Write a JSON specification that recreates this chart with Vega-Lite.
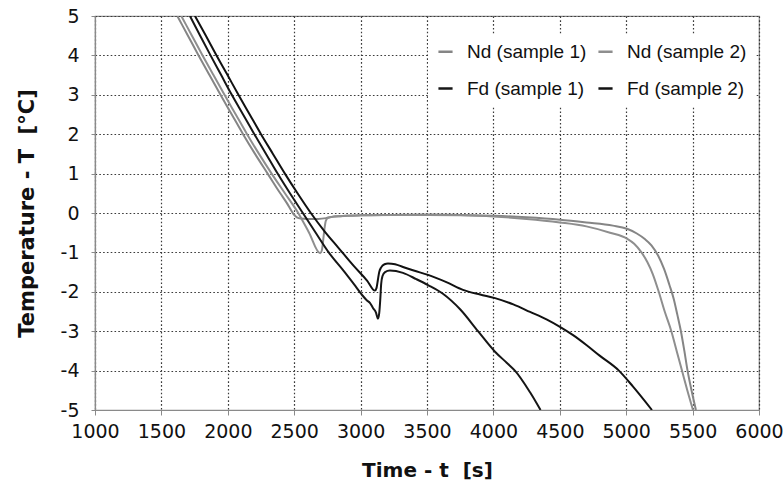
{
  "$schema": "https://vega.github.io/schema/vega-lite/v6.json",
  "width": 664,
  "height": 394,
  "autosize": {"type": "none"},
  "padding": {"left": 95, "top": 16, "right": 25, "bottom": 77},
  "background": "white",
  "config": {
    "font": "Liberation Sans",
    "view": {"stroke": "#8a8a8a", "strokeWidth": 1.2},
    "axis": {
      "grid": true,
      "gridColor": "#3a3a3a",
      "gridDash": [1.6, 2.2],
      "gridWidth": 1.2,
      "domainColor": "#8a8a8a",
      "domainWidth": 1.2,
      "tickColor": "#8a8a8a",
      "labelFont": "DejaVu Sans",
      "labelFontSize": 19,
      "labelColor": "#111111",
      "titleFont": "DejaVu Sans",
      "titleFontWeight": "bold",
      "titleColor": "#111111"
    }
  },
  "data": {
    "values": [
      {"s": "Nd (sample 1)", "t": 1620, "T": 5}, {"s": "Nd (sample 1)", "t": 1700, "T": 4.5}, {"s": "Nd (sample 1)", "t": 1780, "T": 4}, {"s": "Nd (sample 1)", "t": 1862, "T": 3.5}, {"s": "Nd (sample 1)", "t": 1945, "T": 3}, {"s": "Nd (sample 1)", "t": 2030, "T": 2.5}, {"s": "Nd (sample 1)", "t": 2115, "T": 2}, {"s": "Nd (sample 1)", "t": 2205, "T": 1.5}, {"s": "Nd (sample 1)", "t": 2300, "T": 1}, {"s": "Nd (sample 1)", "t": 2395, "T": 0.5}, {"s": "Nd (sample 1)", "t": 2445, "T": 0.25}, {"s": "Nd (sample 1)", "t": 2480, "T": 0.05}, {"s": "Nd (sample 1)", "t": 2500, "T": -0.05}, {"s": "Nd (sample 1)", "t": 2520, "T": -0.11}, {"s": "Nd (sample 1)", "t": 2550, "T": -0.14}, {"s": "Nd (sample 1)", "t": 2600, "T": -0.15}, {"s": "Nd (sample 1)", "t": 2680, "T": -0.15}, {"s": "Nd (sample 1)", "t": 2740, "T": -0.13}, {"s": "Nd (sample 1)", "t": 2780, "T": -0.1}, {"s": "Nd (sample 1)", "t": 2850, "T": -0.08}, {"s": "Nd (sample 1)", "t": 3000, "T": -0.06}, {"s": "Nd (sample 1)", "t": 3250, "T": -0.05}, {"s": "Nd (sample 1)", "t": 3500, "T": -0.04}, {"s": "Nd (sample 1)", "t": 3750, "T": -0.05}, {"s": "Nd (sample 1)", "t": 4000, "T": -0.07}, {"s": "Nd (sample 1)", "t": 4250, "T": -0.11}, {"s": "Nd (sample 1)", "t": 4500, "T": -0.17}, {"s": "Nd (sample 1)", "t": 4700, "T": -0.24}, {"s": "Nd (sample 1)", "t": 4900, "T": -0.32}, {"s": "Nd (sample 1)", "t": 5006, "T": -0.4}, {"s": "Nd (sample 1)", "t": 5080, "T": -0.52}, {"s": "Nd (sample 1)", "t": 5140, "T": -0.66}, {"s": "Nd (sample 1)", "t": 5190, "T": -0.82}, {"s": "Nd (sample 1)", "t": 5240, "T": -1.08}, {"s": "Nd (sample 1)", "t": 5285, "T": -1.42}, {"s": "Nd (sample 1)", "t": 5325, "T": -1.82}, {"s": "Nd (sample 1)", "t": 5358, "T": -2.18}, {"s": "Nd (sample 1)", "t": 5385, "T": -2.58}, {"s": "Nd (sample 1)", "t": 5412, "T": -3.0}, {"s": "Nd (sample 1)", "t": 5438, "T": -3.5}, {"s": "Nd (sample 1)", "t": 5462, "T": -4.0}, {"s": "Nd (sample 1)", "t": 5495, "T": -4.55}, {"s": "Nd (sample 1)", "t": 5525, "T": -5},
      {"s": "Nd (sample 2)", "t": 1650, "T": 5}, {"s": "Nd (sample 2)", "t": 1730, "T": 4.5}, {"s": "Nd (sample 2)", "t": 1810, "T": 4}, {"s": "Nd (sample 2)", "t": 1892, "T": 3.5}, {"s": "Nd (sample 2)", "t": 1975, "T": 3}, {"s": "Nd (sample 2)", "t": 2060, "T": 2.5}, {"s": "Nd (sample 2)", "t": 2145, "T": 2}, {"s": "Nd (sample 2)", "t": 2235, "T": 1.5}, {"s": "Nd (sample 2)", "t": 2330, "T": 1}, {"s": "Nd (sample 2)", "t": 2430, "T": 0.5}, {"s": "Nd (sample 2)", "t": 2530, "T": 0}, {"s": "Nd (sample 2)", "t": 2612, "T": -0.5}, {"s": "Nd (sample 2)", "t": 2695, "T": -1.02}, {"s": "Nd (sample 2)", "t": 2708, "T": -0.95}, {"s": "Nd (sample 2)", "t": 2718, "T": -0.7}, {"s": "Nd (sample 2)", "t": 2728, "T": -0.4}, {"s": "Nd (sample 2)", "t": 2738, "T": -0.2}, {"s": "Nd (sample 2)", "t": 2755, "T": -0.12}, {"s": "Nd (sample 2)", "t": 2800, "T": -0.09}, {"s": "Nd (sample 2)", "t": 2900, "T": -0.07}, {"s": "Nd (sample 2)", "t": 3000, "T": -0.06}, {"s": "Nd (sample 2)", "t": 3250, "T": -0.05}, {"s": "Nd (sample 2)", "t": 3500, "T": -0.05}, {"s": "Nd (sample 2)", "t": 3750, "T": -0.06}, {"s": "Nd (sample 2)", "t": 4000, "T": -0.09}, {"s": "Nd (sample 2)", "t": 4250, "T": -0.15}, {"s": "Nd (sample 2)", "t": 4500, "T": -0.24}, {"s": "Nd (sample 2)", "t": 4700, "T": -0.34}, {"s": "Nd (sample 2)", "t": 4878, "T": -0.5}, {"s": "Nd (sample 2)", "t": 5006, "T": -0.65}, {"s": "Nd (sample 2)", "t": 5060, "T": -0.78}, {"s": "Nd (sample 2)", "t": 5115, "T": -1.0}, {"s": "Nd (sample 2)", "t": 5160, "T": -1.25}, {"s": "Nd (sample 2)", "t": 5200, "T": -1.55}, {"s": "Nd (sample 2)", "t": 5245, "T": -2.0}, {"s": "Nd (sample 2)", "t": 5290, "T": -2.5}, {"s": "Nd (sample 2)", "t": 5340, "T": -3.0}, {"s": "Nd (sample 2)", "t": 5380, "T": -3.5}, {"s": "Nd (sample 2)", "t": 5420, "T": -4.0}, {"s": "Nd (sample 2)", "t": 5460, "T": -4.5}, {"s": "Nd (sample 2)", "t": 5503, "T": -5},
      {"s": "Fd (sample 1)", "t": 1715, "T": 5}, {"s": "Fd (sample 1)", "t": 1792, "T": 4.5}, {"s": "Fd (sample 1)", "t": 1870, "T": 4}, {"s": "Fd (sample 1)", "t": 1950, "T": 3.5}, {"s": "Fd (sample 1)", "t": 2030, "T": 3}, {"s": "Fd (sample 1)", "t": 2115, "T": 2.5}, {"s": "Fd (sample 1)", "t": 2200, "T": 2}, {"s": "Fd (sample 1)", "t": 2288, "T": 1.5}, {"s": "Fd (sample 1)", "t": 2375, "T": 1}, {"s": "Fd (sample 1)", "t": 2468, "T": 0.5}, {"s": "Fd (sample 1)", "t": 2565, "T": 0}, {"s": "Fd (sample 1)", "t": 2662, "T": -0.5}, {"s": "Fd (sample 1)", "t": 2760, "T": -1}, {"s": "Fd (sample 1)", "t": 2880, "T": -1.5}, {"s": "Fd (sample 1)", "t": 2960, "T": -1.85}, {"s": "Fd (sample 1)", "t": 3011, "T": -2.08}, {"s": "Fd (sample 1)", "t": 3048, "T": -2.22}, {"s": "Fd (sample 1)", "t": 3070, "T": -2.28}, {"s": "Fd (sample 1)", "t": 3093, "T": -2.41}, {"s": "Fd (sample 1)", "t": 3115, "T": -2.52}, {"s": "Fd (sample 1)", "t": 3131, "T": -2.68}, {"s": "Fd (sample 1)", "t": 3140, "T": -2.55}, {"s": "Fd (sample 1)", "t": 3148, "T": -2.2}, {"s": "Fd (sample 1)", "t": 3155, "T": -1.8}, {"s": "Fd (sample 1)", "t": 3165, "T": -1.6}, {"s": "Fd (sample 1)", "t": 3184, "T": -1.5}, {"s": "Fd (sample 1)", "t": 3220, "T": -1.46}, {"s": "Fd (sample 1)", "t": 3319, "T": -1.52}, {"s": "Fd (sample 1)", "t": 3420, "T": -1.68}, {"s": "Fd (sample 1)", "t": 3508, "T": -1.83}, {"s": "Fd (sample 1)", "t": 3620, "T": -2.05}, {"s": "Fd (sample 1)", "t": 3751, "T": -2.45}, {"s": "Fd (sample 1)", "t": 3884, "T": -3.0}, {"s": "Fd (sample 1)", "t": 4012, "T": -3.52}, {"s": "Fd (sample 1)", "t": 4100, "T": -3.8}, {"s": "Fd (sample 1)", "t": 4162, "T": -4.0}, {"s": "Fd (sample 1)", "t": 4276, "T": -4.55}, {"s": "Fd (sample 1)", "t": 4355, "T": -5},
      {"s": "Fd (sample 2)", "t": 1753, "T": 5}, {"s": "Fd (sample 2)", "t": 1835, "T": 4.5}, {"s": "Fd (sample 2)", "t": 1915, "T": 4}, {"s": "Fd (sample 2)", "t": 1998, "T": 3.5}, {"s": "Fd (sample 2)", "t": 2080, "T": 3}, {"s": "Fd (sample 2)", "t": 2165, "T": 2.5}, {"s": "Fd (sample 2)", "t": 2250, "T": 2}, {"s": "Fd (sample 2)", "t": 2340, "T": 1.5}, {"s": "Fd (sample 2)", "t": 2430, "T": 1}, {"s": "Fd (sample 2)", "t": 2525, "T": 0.5}, {"s": "Fd (sample 2)", "t": 2625, "T": 0}, {"s": "Fd (sample 2)", "t": 2730, "T": -0.47}, {"s": "Fd (sample 2)", "t": 2830, "T": -0.87}, {"s": "Fd (sample 2)", "t": 2950, "T": -1.35}, {"s": "Fd (sample 2)", "t": 3050, "T": -1.72}, {"s": "Fd (sample 2)", "t": 3108, "T": -1.97}, {"s": "Fd (sample 2)", "t": 3120, "T": -1.9}, {"s": "Fd (sample 2)", "t": 3130, "T": -1.7}, {"s": "Fd (sample 2)", "t": 3140, "T": -1.5}, {"s": "Fd (sample 2)", "t": 3155, "T": -1.38}, {"s": "Fd (sample 2)", "t": 3180, "T": -1.3}, {"s": "Fd (sample 2)", "t": 3206, "T": -1.28}, {"s": "Fd (sample 2)", "t": 3260, "T": -1.3}, {"s": "Fd (sample 2)", "t": 3319, "T": -1.37}, {"s": "Fd (sample 2)", "t": 3400, "T": -1.46}, {"s": "Fd (sample 2)", "t": 3508, "T": -1.57}, {"s": "Fd (sample 2)", "t": 3650, "T": -1.76}, {"s": "Fd (sample 2)", "t": 3771, "T": -1.95}, {"s": "Fd (sample 2)", "t": 3900, "T": -2.07}, {"s": "Fd (sample 2)", "t": 4012, "T": -2.16}, {"s": "Fd (sample 2)", "t": 4150, "T": -2.32}, {"s": "Fd (sample 2)", "t": 4276, "T": -2.51}, {"s": "Fd (sample 2)", "t": 4400, "T": -2.7}, {"s": "Fd (sample 2)", "t": 4501, "T": -2.89}, {"s": "Fd (sample 2)", "t": 4600, "T": -3.1}, {"s": "Fd (sample 2)", "t": 4700, "T": -3.35}, {"s": "Fd (sample 2)", "t": 4800, "T": -3.62}, {"s": "Fd (sample 2)", "t": 4945, "T": -4.0}, {"s": "Fd (sample 2)", "t": 5050, "T": -4.4}, {"s": "Fd (sample 2)", "t": 5194, "T": -5}
    ]
  },
  "mark": {"type": "line", "strokeWidth": 2, "clip": true, "interpolate": "monotone"},
  "encoding": {
    "x": {
      "field": "t", "type": "quantitative",
      "scale": {"domain": [1000, 6000], "nice": false, "zero": false},
      "axis": {"title": "Time - t\u00a0 [s]", "titleFontSize": 20, "values": [1000, 1500, 2000, 2500, 3000, 3500, 4000, 4500, 5000, 5500, 6000], "format": "d", "tickSize": 5, "labelPadding": 7, "titlePadding": 19, "labelFlush": false}
    },
    "y": {
      "field": "T", "type": "quantitative",
      "scale": {"domain": [-5, 5], "nice": false},
      "axis": {"title": "Temperature - T\u00a0 [°C]", "titleFontSize": 21, "values": [-5, -4, -3, -2, -1, 0, 1, 2, 3, 4, 5], "labelExpr": "replace(datum.label, '\u2212', '-')", "tickSize": 4, "labelPadding": 12, "titlePadding": 23}
    },
    "color": {
      "field": "s", "type": "nominal",
      "scale": {"domain": ["Nd (sample 1)", "Nd (sample 2)", "Fd (sample 1)", "Fd (sample 2)"], "range": ["#858585", "#8e8e8e", "#161616", "#111111"]},
      "legend": {
        "title": null,
        "orient": "none",
        "legendX": 333,
        "legendY": 18,
        "columns": 2,
        "direction": "horizontal",
        "fillColor": "white",
        "padding": 8,
        "symbolType": "stroke",
        "symbolSize": 200,
        "symbolStrokeWidth": 2.5,
        "labelFont": "Liberation Sans",
        "labelFontSize": 19,
        "labelColor": "#111111",
        "labelOffset": 12,
        "rowPadding": 17,
        "columnPadding": 6
      }
    }
  }
}
